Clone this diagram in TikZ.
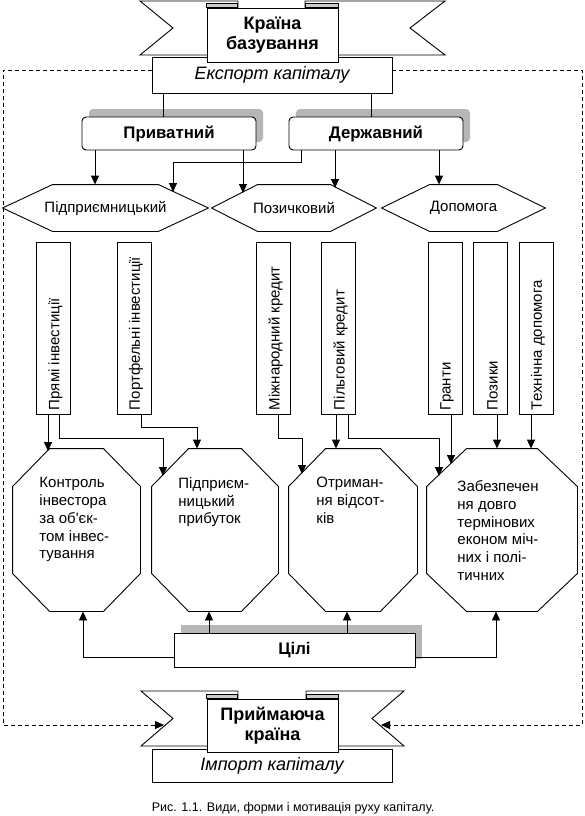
\documentclass[tikz,border=0pt]{standalone}
\usepackage{fontspec}
\setmainfont{Liberation Sans}
\usetikzlibrary{positioning,arrows.meta,shadows}
\definecolor{shadowgray}{RGB}{182,182,182}
\definecolor{tabgray}{RGB}{205,205,205}
\newcommand{\fhead}{\fontsize{16.8}{20.5}\selectfont\bfseries}
\newcommand{\fbanner}{\fontsize{18}{20.5}\selectfont\bfseries}
\newcommand{\fital}{\fontsize{18}{21}\selectfont\itshape}
\newcommand{\fbody}{\fontsize{15}{17.8}\selectfont}
\newcommand{\fnote}{\fontsize{12.5}{15}\selectfont}
% outlines of the form and aim shapes
\newcommand{\hexline}[2]{\draw ([xshift=#2]#1.north west) -- ([xshift=-#2]#1.north east) -- (#1.east)
  -- ([xshift=-#2]#1.south east) -- ([xshift=#2]#1.south west) -- (#1.west) -- cycle;}
\newcommand{\octline}[3]{\draw ([xshift=#2]#1.north west) -- ([xshift=-#2]#1.north east)
  -- ([yshift=-#3]#1.north east) -- ([yshift=#3]#1.south east) -- ([xshift=-#2]#1.south east)
  -- ([xshift=#2]#1.south west) -- ([yshift=#3]#1.south west) -- ([yshift=-#3]#1.north west) -- cycle;}
\tikzset{
  plainbox/.style={rectangle,draw,fill=white,inner sep=0pt,align=center},
  castshadow/.style={drop shadow={shadow xshift=7pt,shadow yshift=8pt,fill=shadowgray,opacity=1}},
  kindbox/.style={rectangle,rounded corners=4pt,draw,fill=white,minimum width=174pt,minimum height=33pt,font=\fhead,castshadow},
  formhex/.style={rectangle,minimum height=46pt,inner sep=0pt,font=\fbody},
  vbox/.style={rectangle,draw,minimum width=34pt,minimum height=172pt,inner sep=0pt},
  vtext/.style={rotate=90,anchor=west,inner sep=0pt,font=\fbody},
  aimoct/.style={rectangle,minimum height=162pt,inner sep=0pt},
  aimtext/.style={anchor=north west,align=left,inner sep=0pt,font=\fbody},
  ribbon/.style={draw,fill=white},
  tab/.style={draw,fill=tabgray},
  arr/.style={-{Triangle[length=9pt,width=8pt]}},
  flowdash/.style={dash pattern=on 4pt off 3pt}
}
\begin{document}
\begin{tikzpicture}[x=1pt,y=-1pt,line width=0.9pt]
  \useasboundingbox (0,0) rectangle (585,816);
  % home country banner
  \draw[ribbon] (140,1) -- (238,1) -- (238,55) -- (140,55) -- (173,28) -- cycle;
  \draw[ribbon] (305,1) -- (445,1) -- (410,28) -- (445,55) -- (305,55) -- cycle;
  \node[plainbox,minimum width=240pt,minimum height=36pt,font=\fital] (export) at (272,75) {Експорт капіталу};
  \node[plainbox,minimum width=131pt,minimum height=54pt,font=\fbanner] (home) at (272.5,35) {Країна\\базування};
  \draw[tab] (home.north west) -- ++(0,-4) -- ++(31,0) -- ++(0,4) -- cycle;
  \draw[tab] (home.north east) -- ++(0,-4) -- ++(-33,0) -- ++(0,4) -- cycle;

  % kinds of capital
  \node[kindbox] (priv) at (169,133.5) {Приватний};
  \node[kindbox] (state) at (376,133.5) {Державний};
  \draw (163,0 |- export.south) -- (163,0 |- priv.north);
  \draw (371,0 |- export.south) -- (371,0 |- state.north);

  % forms
  \node[formhex,minimum width=205pt] (entr) at (105.5,208) {Підприємницький};
  \node[formhex,minimum width=164pt] (credit) at (294,208) {Позичковий};
  \node[formhex,minimum width=163pt] (aid) at (463.5,208) {Допомога};
  \hexline{entr}{50pt}
  \hexline{credit}{46pt}
  \hexline{aid}{48pt}
  \draw[arr] (95,0 |- priv.south) -- (95,0 |- entr.north);
  \draw[arr] (243,0 |- priv.south) -- (243,193);
  \draw[arr] (301,0 |- state.south) |- (173,162) -- (173,192);
  \draw[arr] (335,0 |- state.south) -- (335,188);
  \draw[arr] (439,0 |- state.south) -- (439,0 |- aid.north);

  % sub-forms
  \node[vbox] (direct) at (53.5,328) {};
  \node[vbox] (portf) at (134,328) {};
  \node[vbox] (intcred) at (273.5,328) {};
  \node[vbox] (softcred) at (338.5,328) {};
  \node[vbox] (grants) at (445,328) {};
  \node[vbox] (loans) at (490.5,328) {};
  \node[vbox] (techaid) at (536,328) {};
  \node[vtext] (directl) at ([xshift=2pt,yshift=4pt]direct.south) {Прямі інвестиції};
  \node[vtext] (portfl) at ([xshift=2pt,yshift=4pt]portf.south) {Портфельні інвестиції};
  \node[vtext] (intcredl) at ([xshift=2pt,yshift=4pt]intcred.south) {Міжнародний кредит};
  \node[vtext] (softcredl) at ([xshift=2pt,yshift=4pt]softcred.south) {Пільговий кредит};
  \node[vtext] (grantsl) at ([xshift=2pt,yshift=4pt]grants.south) {Гранти};
  \node[vtext] (loansl) at ([xshift=2pt,yshift=4pt]loans.south) {Позики};
  \node[vtext] (techaidl) at ([xshift=2pt,yshift=4pt]techaid.south) {Технічна допомога};

  % aims
  \node[aimoct,minimum width=127pt] (control) at (76.5,530) {};
  \node[aimoct,minimum width=126pt] (profit) at (215,530) {};
  \node[aimoct,minimum width=128pt] (interest) at (353,530) {};
  \node[aimoct,minimum width=150pt] (secure) at (502,530) {};
  \octline{control}{37pt}{38pt}
  \octline{profit}{37pt}{38pt}
  \octline{interest}{37pt}{38pt}
  \octline{secure}{40pt}{38pt}
  \node[aimtext] (controlt) at (39,477) {Контроль\\інвестора\\за об\textquotesingle єк-\\том інвес-\\тування};
  \node[aimtext] (profitt) at (178,477) {Підприєм-\\ницький\\прибуток};
  \node[aimtext] (interestt) at (316,477) {Отриман-\\ня відсот-\\ків};
  \node[aimtext] (securet) at (457,480) {Забезпечен\\ня довго\\термінових\\економ міч-\\них і полі-\\тичних};
  \draw[arr] (48,0 |- direct.south) -- (48,451);
  \draw[arr] (59,0 |- direct.south) |- (163,438) -- (163,476);
  \draw[arr] (141,0 |- portf.south) |- (197,427) -- (197,0 |- profit.north);
  \draw[arr] (278,0 |- intcred.south) |- (302,438) -- (302,474);
  \draw[arr] (336,0 |- softcred.south) -- (336,0 |- interest.north);
  \draw[arr] (348,0 |- softcred.south) |- (439,438) -- (439,476);
  \draw[arr] (451,0 |- grants.south) -- (451,464);
  \draw[arr] (497,0 |- loans.south) -- (497,0 |- secure.north);
  \draw[arr] (531,0 |- techaid.south) -- (531,0 |- secure.north);

  % goals
  \node[plainbox,minimum width=241pt,minimum height=34pt,font=\fhead,castshadow] (goals) at (294.5,650) {Цілі};
  \draw[arr] ([yshift=-7pt]goals.west) -| (83,0 |- control.south);
  \draw[arr] (209,0 |- goals.north) -- (209,0 |- profit.south);
  \draw[arr] (347,0 |- goals.north) -- (347,0 |- interest.south);
  \draw[arr] ([yshift=-7pt]goals.east) -| (496,0 |- secure.south);

  % host country banner
  \draw[ribbon] (141,691) -- (238,691) -- (238,746) -- (141,746) -- (173,718.5) -- cycle;
  \draw[ribbon] (306,691) -- (404,691) -- (372,718.5) -- (404,746) -- (306,746) -- cycle;
  \node[plainbox,minimum width=240pt,minimum height=33pt,font=\fital] (import) at (272,766) {Імпорт капіталу};
  \node[plainbox,minimum width=131pt,minimum height=53pt,font=\fbanner] (host) at (272.5,725.5) {Приймаюча\\країна};
  \draw[tab] (host.north west) -- ++(0,-4) -- ++(31,0) -- ++(0,4) -- cycle;
  \draw[tab] (host.north east) -- ++(0,-4) -- ++(-32,0) -- ++(0,4) -- cycle;
  \coordinate (inL) at (164,725);
  \coordinate (inR) at (381,725);

  % capital flow
  \draw[flowdash,arr] ([yshift=5pt]export.west) -| (3,725) -- (inL);
  \draw[flowdash,arr] ([yshift=5pt]export.east) -| (582,725) -- (inR);

  \node[font=\fnote] (caption) at (293,808) {Рис. 1.1. Види, форми і мотивація руху капіталу.};
\end{tikzpicture}
\end{document}
